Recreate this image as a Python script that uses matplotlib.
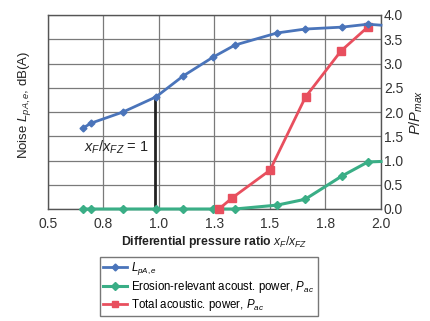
import matplotlib
matplotlib.use("Agg")
import matplotlib.pyplot as plt
from matplotlib.lines import Line2D

plt.rcParams['font.family'] = ['Liberation Sans', 'DejaVu Sans']
plt.rcParams['mathtext.fontset'] = 'custom'
plt.rcParams['mathtext.rm'] = 'Liberation Sans'
plt.rcParams['mathtext.it'] = 'Liberation Sans:italic'
plt.rcParams['mathtext.bf'] = 'Liberation Sans:bold'

# ---- data ----
x_tick_vals = [0.5, 0.75, 1.0, 1.25, 1.5, 1.75, 2.0]
x_tick_labels = ['0.5', '0.8', '1.0', '1.3', '1.5', '1.8', '2.0']
y_ticks = [0.0, 0.5, 1.0, 1.5, 2.0, 2.5, 3.0, 3.5, 4.0]

x_pts = [0.658, 0.694, 0.838, 0.986, 1.108, 1.243, 1.342, 1.532, 1.658, 1.824, 1.941, 2.0]
noise = [1.67, 1.77, 2.00, 2.31, 2.74, 3.13, 3.38, 3.63, 3.71, 3.75, 3.81, 3.79]
erosion = [0.0, 0.0, 0.0, 0.0, 0.0, 0.0, 0.0, 0.08, 0.20, 0.68, 0.97, 0.98]

x_total = [1.27, 1.33, 1.50, 1.66, 1.82, 1.94]
total = [0.0, 0.23, 0.80, 2.31, 3.26, 3.75]

x_ref = 0.98
y_ref_top = 2.31

c_blue = '#4a74ba'
c_green = '#3aae86'
c_red = '#e84f5e'

fig = plt.figure(figsize=(4.31, 3.21), dpi=100)
ax = fig.add_axes([48/431, 1-209/321, 333/431, 194/321])

ax.set_xlim(0.5, 2.0)
ax.set_ylim(0, 4)
ax.set_xticks(x_tick_vals)
ax.set_xticklabels(x_tick_labels)
ax.set_yticks(y_ticks)
ax.yaxis.tick_right()
ax.tick_params(axis='y', length=0, labelsize=10, pad=2, colors='#333333')
ax.tick_params(axis='x', length=0, labelsize=10, pad=6, colors='#333333')
ax.grid(True, color='#7a7a7a', lw=0.9)
ax.set_axisbelow(True)
for s in ax.spines.values():
    s.set_color('#555555')
    s.set_linewidth(1.0)

# reference line x_F/x_FZ = 1
ax.plot([x_ref, x_ref], [0, y_ref_top], color='#222222', lw=2.0, zorder=3)
ax.text(0.66, 1.28, r'$x_F/x_{FZ}$ = 1', fontsize=10.5, color='#222222',
        ha='left', va='center', zorder=4)

n = len(x_pts) - 1
ax.plot(x_pts, erosion, color=c_green, lw=2.2, marker='D', ms=4,
        markevery=list(range(n)), zorder=4, clip_on=False)
ax.plot(x_total, total, color=c_red, lw=2.0, marker='s', ms=6,
        zorder=5, clip_on=False)
ax.plot(x_pts, noise, color=c_blue, lw=2.0, marker='D', ms=3.5,
        markevery=list(range(n)), zorder=6, clip_on=False)

ax.set_xlabel(r'Differential pressure ratio $x_F/x_{FZ}$', fontsize=8.8,
              fontweight='bold', color='#222222', labelpad=2)
ax.yaxis.set_label_position('right')
ax.set_ylabel(r'$P/P_{max}$', fontsize=10.5, color='#222222', labelpad=3)
fig.text(25/431, 1-105/321, r'Noise $L_{pA,e}$, dB(A)', rotation=90,
         ha='center', va='center', fontsize=9.5, color='#222222')

handles = [
    Line2D([], [], color=c_blue, lw=2, marker='D', ms=3.5),
    Line2D([], [], color=c_green, lw=2.2, marker='D', ms=4),
    Line2D([], [], color=c_red, lw=2, marker='s', ms=5),
]
labels = [r'$L_{pA,e}$',
          r'Erosion-relevant acoust. power, $P_{ac}$',
          r'Total acoustic. power, $P_{ac}$']
leg = fig.legend(handles, labels, loc='upper left',
                 bbox_to_anchor=(100/431, 1-257/321), fontsize=8.3,
                 frameon=True, fancybox=False, handlelength=2.0,
                 handletextpad=0.4, borderpad=0.3, labelspacing=0.15,
                 borderaxespad=0)
leg.get_frame().set_edgecolor('#555555')
leg.get_frame().set_linewidth(1.0)

fig.savefig('out.png', dpi=100)
